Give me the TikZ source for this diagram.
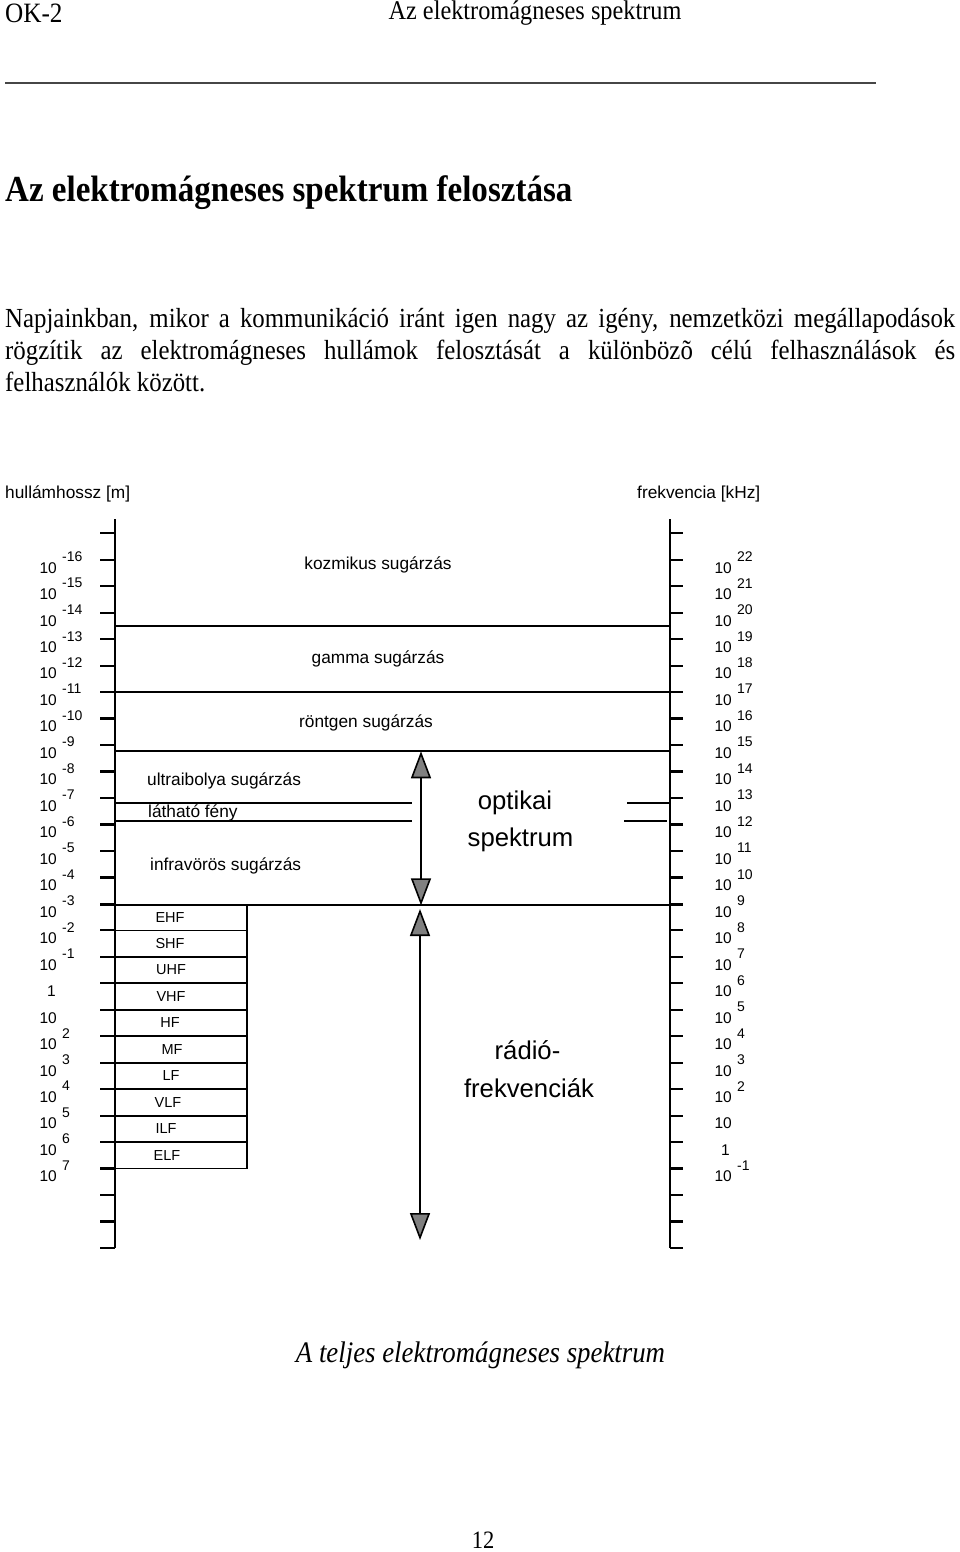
\documentclass[tikz,border=0pt]{standalone}
\usepackage{fontspec}
\setmainfont{Liberation Serif}
\setsansfont{Liberation Sans}
\usetikzlibrary{arrows.meta}
\definecolor{arrowgray}{RGB}{128,128,128}
\definecolor{rulegray}{RGB}{70,70,70}
\newcommand{\fsz}[1]{\fontsize{#1}{#1}\selectfont}
\newcommand{\sqz}[1]{\scalebox{0.9}[1]{#1}}
\tikzset{
  axisline/.style={line width=2.2pt},
  bandline/.style={line width=1.7pt},
  lab/.style={inner sep=0pt,font=\sffamily\fsz{17.3}},
  biglab/.style={inner sep=0pt,font=\sffamily\fsz{25.7}},
  ticklab/.style={inner sep=0pt,font=\sffamily\fsz{15.5}},
  suplab/.style={inner sep=0pt,font=\sffamily\fsz{14}},
  bandlab/.style={inner sep=0pt,font=\sffamily\fsz{14.5}},
  serif/.style={inner sep=0pt},
  dblarrow/.style={line width=1.6pt,
    arrows={Triangle[length=27pt,width=20pt,fill=arrowgray]-Triangle[length=27pt,width=20pt,fill=arrowgray]}}
}
\begin{document}
\begin{tikzpicture}[x=1pt,y=-1pt]
\useasboundingbox[fill=white] (0,0) rectangle (960,1552);

% ---------- page text ----------
\node[serif,anchor=west] (hdrL) at (5,13) {\sqz{\fsz{28}OK-2}};
\node[serif] (hdrR) at (535,13) {\sqz{\fsz{27}Az elektromágneses spektrum}};
\coordinate (hl1) at (5,83);
\coordinate (hl2) at (876,83);
\draw[line width=1.5pt,rulegray] (hl1) -- (hl2);
\node[serif,anchor=west] (title) at (5,193) {\sqz{\fsz{36.7}\bfseries Az elektromágneses spektrum felosztása}};
\node[serif,anchor=base west] (para) at (5,327) {\sqz{\parbox[t]{1055.6pt}{\fontsize{27.6}{32}\selectfont
  \tolerance=9999 \hyphenpenalty=10000 \emergencystretch=50pt
  Napjainkban, mikor a kommunikáció iránt igen nagy az igény, nemzetközi megállapodások\linebreak
  rögzítik az elektromágneses hullámok felosztását a különbözõ célú felhasználások és\linebreak
  felhasználók között.}}};
\node[serif] (caption) at (480.5,1355) {\sqz{\fsz{29.8}\itshape A teljes elektromágneses spektrum}};
\node[serif] (pagenum) at (483,1540) {\sqz{\fsz{25}12}};

% ---------- axis titles ----------
\node[lab,anchor=west] (wl) at (5,494) {hullámhossz [m]};
\node[lab,anchor=west] (fq) at (637,494) {frekvencia [kHz]};

% ---------- axes ----------
\draw[axisline] (115,519) -- (115,1248);
\draw[axisline] (670,519) -- (670,1248);
\foreach \i in {0,...,27}{
  \draw[axisline] (100,{533.3+\i*26.47}) -- (115,{533.3+\i*26.47});
  \draw[axisline] (670,{533.3+\i*26.47}) -- (683,{533.3+\i*26.47});
}

% ---------- left labels ----------
\foreach \i/\e in {1/-16,2/-15,3/-14,4/-13,5/-12,6/-11,7/-10,8/-9,9/-8,10/-7,11/-6,12/-5,13/-4,14/-3,15/-2,16/-1,19/2,20/3,21/4,22/5,23/6,24/7}{
  \node[ticklab,anchor=east] (L\i) at (57,{533.3+\i*26.47+8}) {10};
  \node[suplab,anchor=west] (Ls\i) at (62,{533.3+\i*26.47-3}) {\e};
}
\node[ticklab,anchor=east] (L17) at (56,{533.3+17*26.47+8}) {1};
\node[ticklab,anchor=east] (L18) at (57,{533.3+18*26.47+8}) {10};

% ---------- right labels ----------
\foreach \i/\e in {1/22,2/21,3/20,4/19,5/18,6/17,7/16,8/15,9/14,10/13,11/12,12/11,13/10,14/9,15/8,16/7,17/6,18/5,19/4,20/3,21/2,24/-1}{
  \node[ticklab,anchor=east] (R\i) at (732,{533.3+\i*26.47+8}) {10};
  \node[suplab,anchor=west] (Rs\i) at (737,{533.3+\i*26.47-3}) {\e};
}
\node[ticklab,anchor=east] (R22) at (732,{533.3+22*26.47+8}) {10};
\node[ticklab,anchor=east] (R23) at (730,{533.3+23*26.47+8}) {1};

% ---------- region lines ----------
\draw[bandline] (115,626.3) -- (670,626.3);
\draw[bandline] (100,692.2) -- (683,692.2);
\draw[bandline] (115,751.3) -- (670,751.3);
\draw[bandline] (115,802.7) -- (412,802.7);
\draw[bandline] (115,821) -- (412,821);
\draw[bandline] (627,802.7) -- (670,802.7);
\draw[bandline] (624,821) -- (667,821);
\draw[bandline] (100,905.3) -- (683,905.3);

% ---------- radio band box ----------
\foreach \i in {15,...,24}{
  \draw[bandline] (100,{533.3+\i*26.47}) -- (247.3,{533.3+\i*26.47});
}
\draw[bandline] (247.3,905.3) -- (247.3,{533.3+24*26.47});

% ---------- region labels ----------
\node[lab] (kozm) at (378,565) {kozmikus sugárzás};
\node[lab] (gamma) at (378,659) {gamma sugárzás};
\node[lab] (rontg) at (366,723) {röntgen sugárzás};
\node[lab,anchor=west] (uv) at (147,781) {ultraibolya sugárzás};
\node[lab,anchor=west] (vis) at (148,813) {látható fény};
\node[lab,anchor=west] (ir) at (150,866) {infravörös sugárzás};
\node[biglab] (opt1) at (515,803) {optikai};
\node[biglab] (opt2) at (520.5,840) {spektrum};
\node[biglab] (rad1) at (527.5,1050) {rádió-};
\node[biglab] (rad2) at (529,1088) {frekvenciák};

% ---------- band labels ----------
\foreach \i/\t/\xx in {14/EHF/170,15/SHF/170,16/UHF/171,17/VHF/171,18/HF/170,19/MF/172,20/LF/171,21/VLF/168,22/ILF/166,23/ELF/167}{
  \node[bandlab] (B\t) at (\xx,{533.3+\i*26.47+13.2}) {\t};
}

% ---------- arrows ----------
\coordinate (o1) at (421,751.3);
\coordinate (o2) at (421,905.3);
\coordinate (r1) at (420,909);
\coordinate (r2) at (420,1240);
\draw[dblarrow] (o1) -- (o2);
\draw[dblarrow] (r1) -- (r2);
\end{tikzpicture}
\end{document}
